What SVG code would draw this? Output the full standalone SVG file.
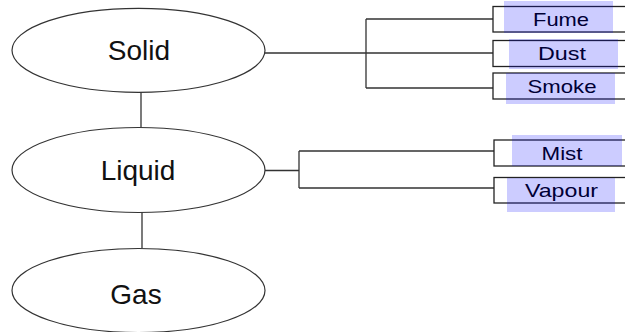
<svg xmlns="http://www.w3.org/2000/svg" width="625" height="332" viewBox="0 0 625 332">
  <style>
    .state { fill: #ffffff; stroke: #333333; stroke-width: 1.2; }
    .state-label { font-family: "Liberation Sans", Arial, sans-serif; font-size: 28px; fill: #111111; text-anchor: middle; }
    .box { fill: #ffffff; stroke: #222222; stroke-width: 1.3; }
    .box-label { font-family: "Liberation Sans", Arial, sans-serif; font-size: 18.5px; fill: #000000; text-anchor: middle; }
    .hl { fill: #0000ff; fill-opacity: 0.2; }
    .wire { fill: none; stroke: #333333; stroke-width: 1.3; }
  </style>

  <!-- connectors -->
  <g id="connectors">
    <path class="wire" d="M141 92 V127"/>
    <path class="wire" d="M142 212 V248"/>
    <path class="wire" d="M265 53 H366 M366 19 V88 M366 19 H493 M366 53 H493 M366 88 H493"/>
    <path class="wire" d="M265 170.5 H299 M299 151 V188 M299 151 H494 M299 188 H494"/>
  </g>

  <!-- states -->
  <g id="solid">
    <ellipse class="state" cx="138.5" cy="50.3" rx="126.5" ry="42"/>
    <text class="state-label" x="139" y="59.5">Solid</text>
  </g>
  <g id="liquid">
    <ellipse class="state" cx="138.5" cy="170" rx="126.5" ry="42.5"/>
    <text class="state-label" x="138" y="180">Liquid</text>
  </g>
  <g id="gas">
    <ellipse class="state" cx="138.5" cy="290.5" rx="126.5" ry="42"/>
    <text class="state-label" x="136" y="304">Gas</text>
  </g>

  <!-- particle types -->
  <g id="fume">
    <rect class="box" x="493" y="6.5" width="150" height="25.5"/>
    <text class="box-label" x="561" y="26" textLength="56" lengthAdjust="spacingAndGlyphs">Fume</text>
    <rect class="hl" x="504" y="1" width="109" height="32"/>
  </g>
  <g id="dust">
    <rect class="box" x="493" y="40.5" width="150" height="26"/>
    <text class="box-label" x="562" y="60" textLength="48" lengthAdjust="spacingAndGlyphs">Dust</text>
    <rect class="hl" x="509" y="39" width="109" height="30"/>
  </g>
  <g id="smoke">
    <rect class="box" x="493" y="73" width="150" height="26"/>
    <text class="box-label" x="562" y="92.5" textLength="69" lengthAdjust="spacingAndGlyphs">Smoke</text>
    <rect class="hl" x="506" y="73" width="109" height="31"/>
  </g>
  <g id="mist">
    <rect class="box" x="494" y="140" width="150" height="26"/>
    <text class="box-label" x="562" y="159.5" textLength="41" lengthAdjust="spacingAndGlyphs">Mist</text>
    <rect class="hl" x="512" y="135" width="110" height="31"/>
  </g>
  <g id="vapour">
    <rect class="box" x="494" y="177.5" width="150" height="25.5"/>
    <text class="box-label" x="561.5" y="197" textLength="73" lengthAdjust="spacingAndGlyphs">Vapour</text>
    <rect class="hl" x="507" y="178" width="108" height="34"/>
  </g>
</svg>
